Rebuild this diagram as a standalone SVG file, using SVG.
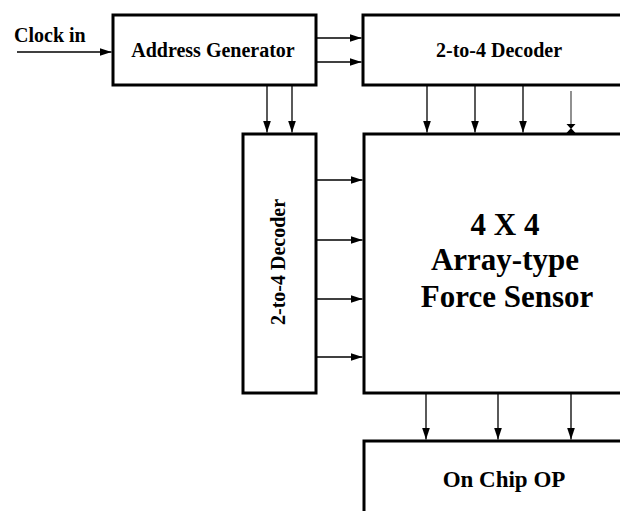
<svg xmlns="http://www.w3.org/2000/svg" width="620" height="511" viewBox="0 0 620 511">
<defs>
<marker id="ah" markerWidth="12" markerHeight="8" refX="12" refY="4" orient="auto" markerUnits="userSpaceOnUse"><path d="M0,0 L12,4 L0,8 Z" fill="#000"/></marker>
<style>
.box{fill:#fff;stroke:#000;stroke-width:3}
.lbl{font-family:"Liberation Serif","Times New Roman",serif;font-weight:bold;fill:#000}
.c{fill:none;stroke:#000;stroke-width:1.3;marker-end:url(#ah)}
.g{fill:none;stroke:#555;stroke-width:1.3}
</style>
</defs>
<rect width="620" height="511" fill="#fff"/>
<g id="clock-in"><text class="lbl" x="14" y="42" font-size="20">Clock in</text></g>
<g id="address-generator">
<rect class="box" x="113" y="15" width="203" height="70"/>
<text class="lbl" x="213" y="57" font-size="20" text-anchor="middle">Address Generator</text>
</g>
<g id="decoder-top">
<rect class="box" x="363" y="15" width="270" height="70"/>
<text class="lbl" x="499" y="57" font-size="20" text-anchor="middle">2-to-4 Decoder</text>
</g>
<g id="decoder-left">
<rect class="box" x="243" y="134" width="73" height="259"/>
<text class="lbl" font-size="20" text-anchor="middle" transform="translate(285,262) rotate(-90)">2-to-4 Decoder</text>
</g>
<g id="force-sensor">
<rect class="box" x="364" y="134" width="270" height="259"/>
<text class="lbl" x="505" y="235" font-size="31" text-anchor="middle">4 X 4</text>
<text class="lbl" x="505" y="270" font-size="31" text-anchor="middle">Array-type</text>
<text class="lbl" x="507" y="307" font-size="31" text-anchor="middle">Force Sensor</text>
</g>
<g id="on-chip-op">
<rect class="box" x="364" y="441" width="270" height="100"/>
<text class="lbl" x="504" y="487" font-size="23" text-anchor="middle">On Chip OP</text>
</g>
<g id="connectors">
<path class="c" d="M17,52 H111.5"/>
<path class="c" d="M316,38 H361.5"/>
<path class="c" d="M316,62 H361.5"/>
<path class="c" d="M267,85 V132.5"/>
<path class="c" d="M292,85 V132.5"/>
<path class="c" d="M427,85 V132.5"/>
<path class="c" d="M475,85 V132.5"/>
<path class="c" d="M523,85 V132.5"/>
<path class="g" d="M571,91 V133"/>
<path d="M566.5,124 L575.5,124 L571,129 Z M566.5,133 L575.5,133 L571,128 Z" fill="#000"/>
<path class="c" d="M316,180 H362.5"/>
<path class="c" d="M316,240 H362.5"/>
<path class="c" d="M316,299 H362.5"/>
<path class="c" d="M316,357 H362.5"/>
<path class="c" d="M426,393 V439.5"/>
<path class="c" d="M498,393 V439.5"/>
<path class="c" d="M571,393 V439.5"/>
</g>
</svg>
